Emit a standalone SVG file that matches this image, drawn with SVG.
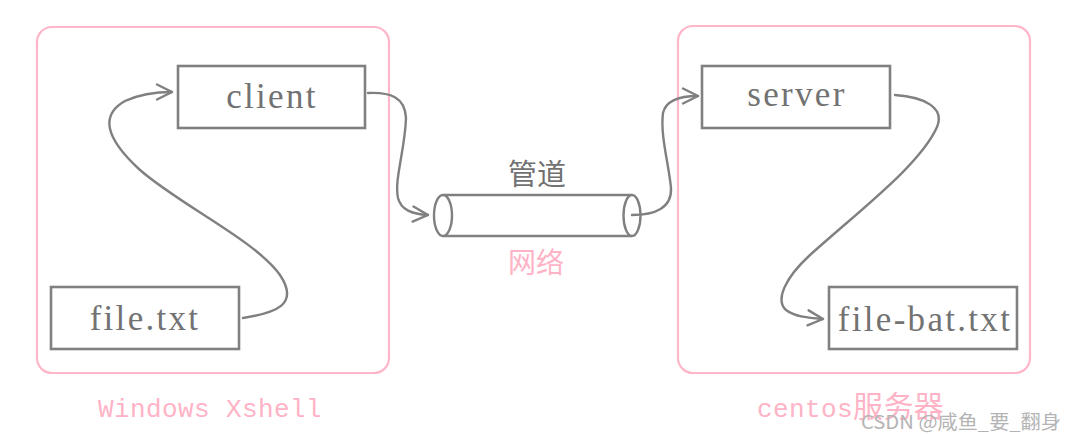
<svg xmlns="http://www.w3.org/2000/svg" width="1067" height="437" viewBox="0 0 1067 437">
<style>
.cont{fill:none;stroke:#ffb6c8;stroke-width:2.2}
.box{fill:#fff;stroke:#808080;stroke-width:2.6}
.lbl{font-family:"Liberation Serif","Times New Roman",serif;font-size:35px;letter-spacing:2.3px;fill:#727272;text-anchor:middle}
.pink{font-family:"Liberation Mono","Courier New",monospace;font-size:26px;fill:#ffb3c6}
.cjk{font-family:"Noto Sans CJK SC",sans-serif}
.edge{fill:none;stroke:#808080;stroke-width:2.4;stroke-linecap:round;stroke-linejoin:round}
</style>
<defs>
<marker id="arr" viewBox="0 0 20 20" refX="17" refY="10" markerWidth="20" markerHeight="20" markerUnits="userSpaceOnUse" orient="auto">
<path d="M2,2.5 L17,10 L2,17.5" fill="none" stroke="#808080" stroke-width="2.4" stroke-linecap="round" stroke-linejoin="round"/>
</marker>
</defs>
<rect width="1067" height="437" fill="#fff"/>
<g id="windows">
<rect class="cont" x="37" y="27" width="352" height="346" rx="15"/>
<text class="pink" x="98" y="417" letter-spacing="0.4">Windows Xshell</text>
</g>
<g id="centos">
<rect class="cont" x="678" y="26" width="352" height="347" rx="15"/>
<text class="pink" x="757" y="417" letter-spacing="0.4">centos<tspan class="cjk" font-size="30">服务器</tspan></text>
</g>
<g id="client">
<rect class="box" x="178" y="66" width="187" height="62"/>
<text class="lbl" x="272" y="108">client</text>
</g>
<g id="file-txt">
<rect class="box" x="51" y="287" width="188" height="62"/>
<text class="lbl" x="145" y="330">file.txt</text>
</g>
<g id="server">
<rect class="box" x="702" y="66" width="188" height="62"/>
<text class="lbl" x="797" y="106">server</text>
</g>
<g id="file-bat">
<rect class="box" x="829" y="287" width="188" height="62"/>
<text class="lbl" x="925" y="331">file-bat.txt</text>
</g>
<g id="pipe">
<path d="M443,195 L632,195 M443,236 L632,236" fill="none" stroke="#808080" stroke-width="2.4"/>
<ellipse cx="443" cy="215.5" rx="9" ry="20.5" fill="#fff" stroke="#808080" stroke-width="2.4"/>
<ellipse cx="632" cy="215.5" rx="8.5" ry="20.5" fill="#fff" stroke="#808080" stroke-width="2.4"/>
<text class="cjk" x="537" y="185" font-size="29" fill="#727272" text-anchor="middle">管道</text>
<text class="cjk" x="536" y="273" font-size="28" fill="#ffb3c6" text-anchor="middle">网络</text>
</g>
<g id="connectors">
<path class="edge" marker-end="url(#arr)" d="M243,318 C275,313 300,305 280,275 C255,240 180,205 140,170 C105,138 100,115 125,101 C138,95 155,92 172,92"/>
<path class="edge" marker-end="url(#arr)" d="M368,93 C390,92 405,97 406,118 C405,150 394,180 398,198 C401,210 412,214 428,215"/>
<path class="edge" marker-end="url(#arr)" d="M632,215 C655,215 672,208 671,188 C669,165 660,135 663,113 C666,100 680,96 698,96"/>
<path class="edge" marker-end="url(#arr)" d="M895,95 C925,97 945,108 937,127 C920,165 860,210 810,255 C785,278 775,300 786,310 C795,317 810,318 823,319"/>
</g>
<text x="861" y="429" font-family="'Noto Sans CJK SC',sans-serif" font-size="19" fill="#b4b4b4" textLength="200" lengthAdjust="spacingAndGlyphs">CSDN @咸鱼_要_翻身</text>
</svg>
